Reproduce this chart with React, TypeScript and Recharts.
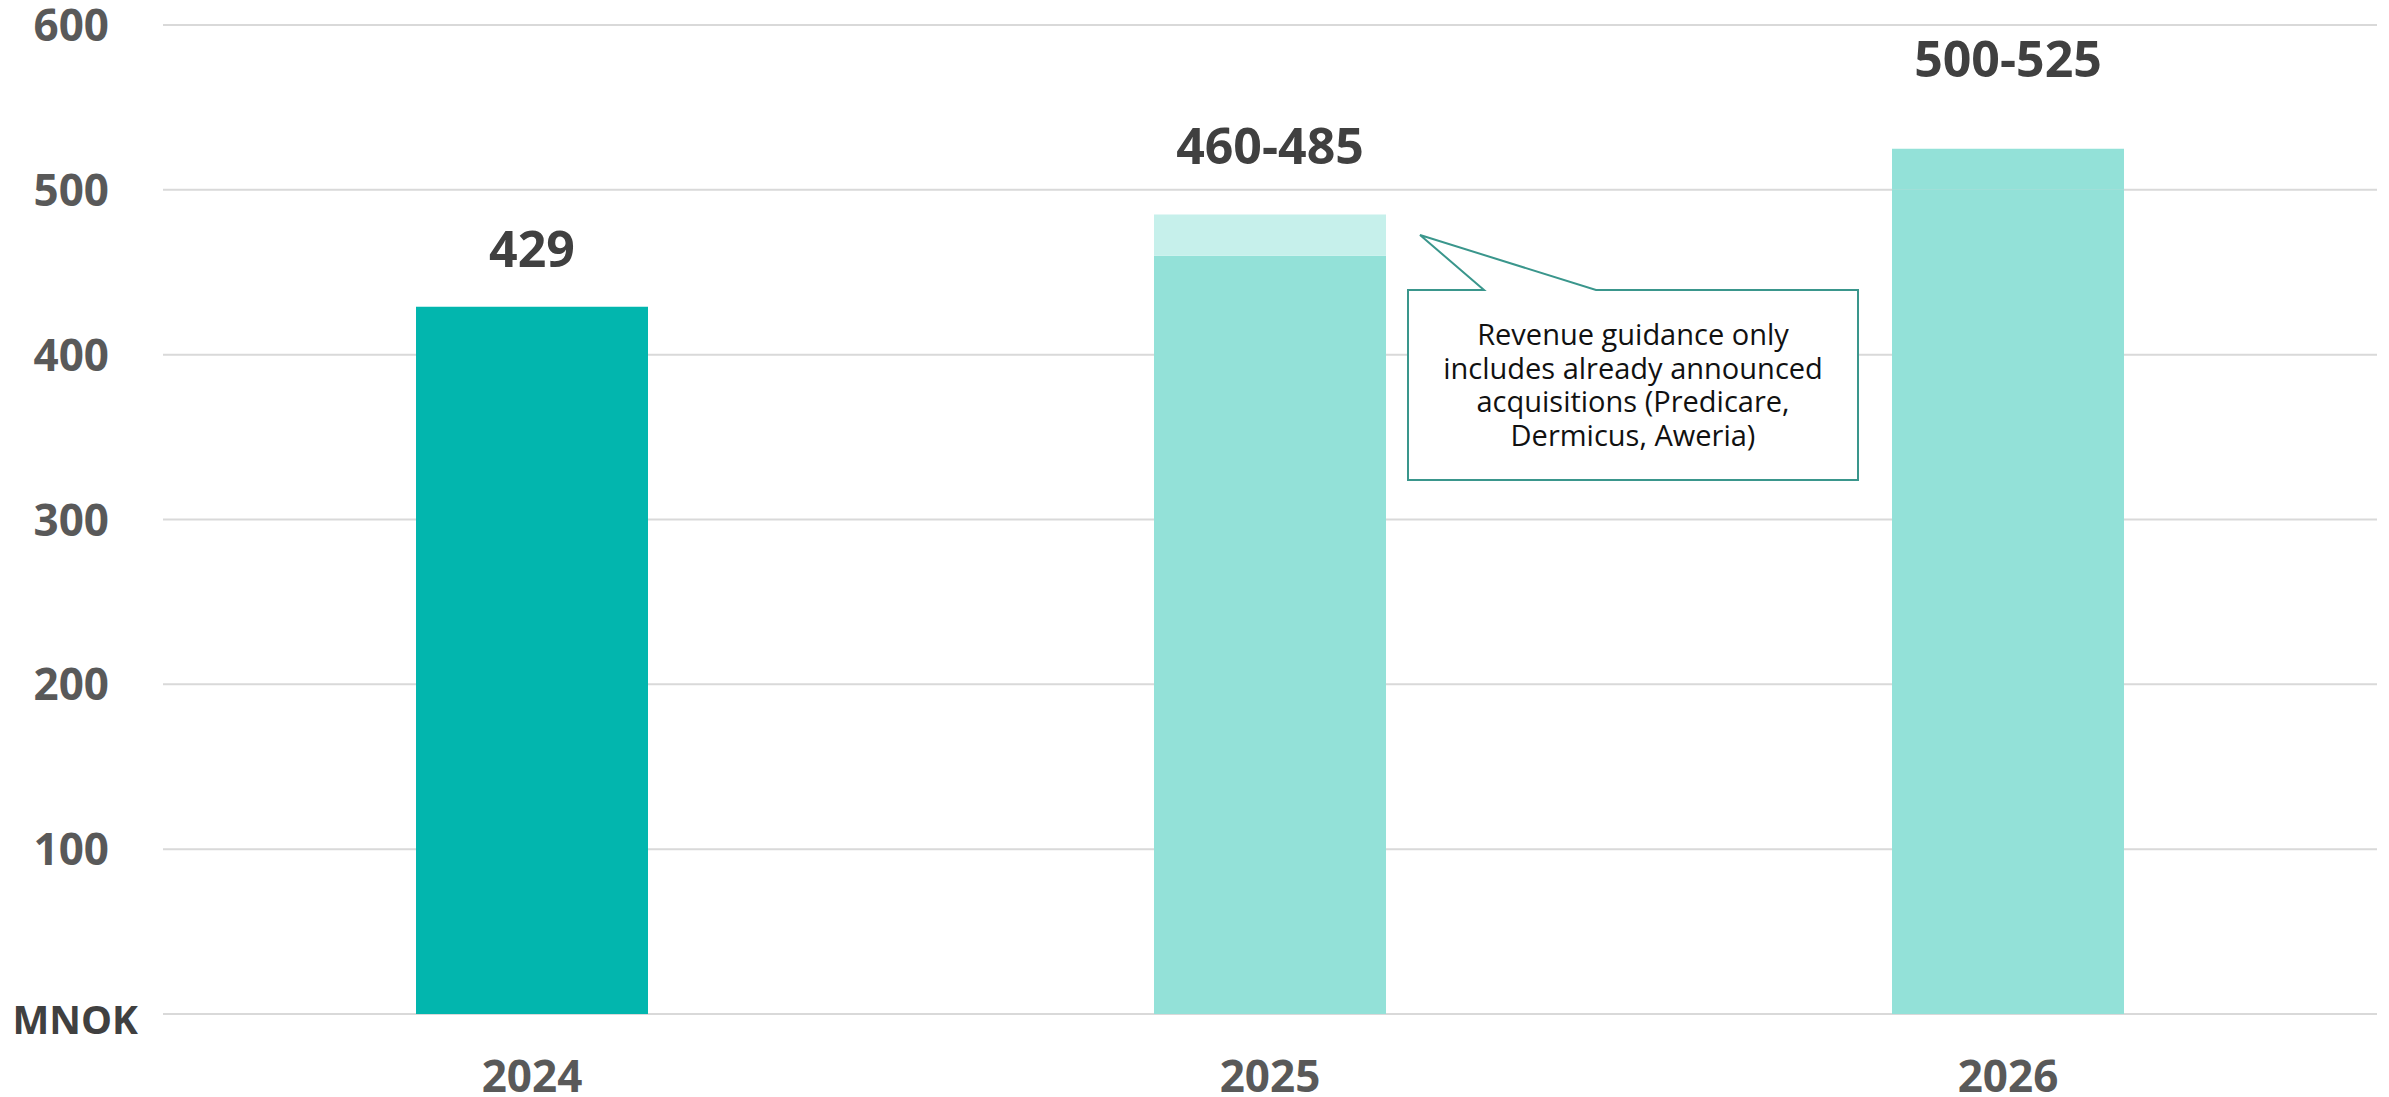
import { BarChart, Bar, XAxis, YAxis, CartesianGrid, Cell, LabelList } from 'recharts';

// Revenue in MNOK: 2024 actual, 2025–2026 guidance ranges
const YEARS = ['2024', '2025', '2026'];
const REVENUE_LOW = [429, 460, 500];
const REVENUE_HIGH = [429, 485, 525];
const Y_TICKS = [0, 100, 200, 300, 400, 500, 600];

const CALLOUT_LINES = [
  'Revenue guidance only',
  'includes already announced',
  'acquisitions (Predicare,',
  'Dermicus, Aweria)',
];

const TEAL = '#02b6ae';
const MINT = '#93e1d8';
const MINT_LIGHT = '#c6f0eb';

// fill per year: lower part of the bar, then the guidance range on top
const BASE_FILLS = [TEAL, MINT, MINT];
const RANGE_FILLS = [TEAL, MINT_LIGHT, MINT];

// how far each value label sits above the top of its bar
const LABEL_LIFT = [40, 51, 72];

const FONT = '"Open Sans", "Noto Sans", sans-serif';

const rows = YEARS.map((year, i) => ({
  year,
  low: REVENUE_LOW[i],
  range: REVENUE_HIGH[i] - REVENUE_LOW[i],
  label: REVENUE_LOW[i] === REVENUE_HIGH[i] ? `${REVENUE_LOW[i]}` : `${REVENUE_LOW[i]}-${REVENUE_HIGH[i]}`,
}));

function YTick({ x, y, payload }: any) {
  if (payload.value === 0) {
    return (
      <text x={x + 29} y={y + 20} textAnchor="end" fontFamily={FONT} fontWeight={700} fontSize={39} fill="#404040">
        MNOK
      </text>
    );
  }
  return (
    <text x={x} y={y + 16} textAnchor="end" fontFamily={FONT} fontWeight={700} fontSize={44} fill="#595959">
      {payload.value}
    </text>
  );
}

function XTick({ x, y, payload }: any) {
  return (
    <text x={x} y={y + 78} textAnchor="middle" fontFamily={FONT} fontWeight={700} fontSize={44} fill="#595959">
      {payload.value}
    </text>
  );
}

// Sits on the lower bar (always non-empty) and climbs over the range part
function ValueLabel(props: any) {
  const { value } = props;
  const box = props.viewBox ?? props;
  const i = rows.findIndex((r) => r.label === value);
  if (i < 0) return null;
  const pxPerUnit = box.height / rows[i].low;
  const top = box.y - rows[i].range * pxPerUnit;
  return (
    <text x={box.x + box.width / 2} y={top - LABEL_LIFT[i]} textAnchor="middle" fontFamily={FONT} fontWeight={700} fontSize={50} fill="#404040">
      {value}
    </text>
  );
}

function Callout() {
  const pts = '1408,290 1484,290 1420,235 1596,290 1858,290 1858,480 1408,480';
  return (
    <svg width={2389} height={1097} style={{ position: 'absolute', left: 0, top: 0, pointerEvents: 'none' }}>
      <polygon points={pts} fill="#ffffff" stroke="#3a968c" strokeWidth={2} />
      {CALLOUT_LINES.map((line, i) => (
        <text key={line} x={1633} y={345 + i * 33.7} textAnchor="middle" fontFamily={FONT} fontSize={29} fill="#111111">
          {line}
        </text>
      ))}
    </svg>
  );
}

export default function App() {
  return (
    <div style={{ position: 'relative', width: 2389, height: 1097, background: '#ffffff' }}>
      <style>{'body { margin: 0; }'}</style>
      <BarChart width={2389} height={1097} data={rows} margin={{ top: 25, right: 12, bottom: 0, left: 0 }} barSize={232}>
        <CartesianGrid vertical={false} stroke="#d9d9d9" strokeWidth={2} />
        <XAxis dataKey="year" height={83} axisLine={false} tickLine={false} tickSize={0} tickMargin={0} tick={<XTick />} />
        <YAxis
          width={163}
          domain={[0, 600]}
          ticks={Y_TICKS}
          axisLine={false}
          tickLine={false}
          tickSize={0}
          tickMargin={54}
          tick={<YTick />}
        />
        <Bar dataKey="low" stackId="rev" isAnimationActive={false}>
          {rows.map((r, i) => (
            <Cell key={r.year} fill={BASE_FILLS[i]} />
          ))}
          <LabelList dataKey="label" content={<ValueLabel />} />
        </Bar>
        <Bar dataKey="range" stackId="rev" isAnimationActive={false}>
          {rows.map((r, i) => (
            <Cell key={r.year} fill={RANGE_FILLS[i]} />
          ))}
        </Bar>
      </BarChart>
      <Callout />
    </div>
  );
}
